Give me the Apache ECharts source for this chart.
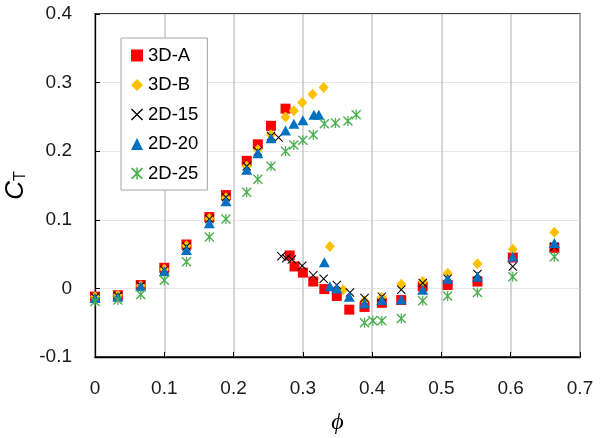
<!DOCTYPE html>
<html>
<head>
<meta charset="utf-8">
<script src="https://cdn.jsdelivr.net/npm/echarts@6/dist/echarts.min.js"></script>
<style>html,body{margin:0;padding:0;background:#fff}#c{width:601px;height:438px}</style>
</head>
<body>
<div id="c"></div>
<script>
const seriesNames = ['3D-A', '3D-B', '2D-15', '2D-20', '2D-25'];
const xTicks = [0, 0.1, 0.2, 0.3, 0.4, 0.5, 0.6, 0.7];
const yTicks = [-0.1, 0, 0.1, 0.2, 0.3, 0.4];

const phiA = [0, 0.033, 0.066, 0.1, 0.132, 0.165, 0.189, 0.219, 0.235, 0.254, 0.275,
  0.281, 0.288, 0.300, 0.315, 0.331, 0.349, 0.367, 0.389, 0.414, 0.442, 0.473, 0.509, 0.552, 0.603, 0.663];
const ctA = [-0.012, -0.010, 0.005, 0.030, 0.064, 0.104, 0.136, 0.186, 0.210, 0.237, 0.262,
  0.048, 0.032, 0.023, 0.010, -0.001, -0.011, -0.031, -0.027, -0.021, -0.017, 0.003, 0.005, 0.010, 0.045, 0.059];

const phiB = [0, 0.033, 0.066, 0.1, 0.132, 0.165, 0.189, 0.219, 0.235, 0.254, 0.275, 0.287, 0.299, 0.314, 0.330,
  0.339, 0.358, 0.389, 0.414, 0.442, 0.473, 0.509, 0.552, 0.603, 0.663];
const ctB = [-0.012, -0.010, 0.004, 0.028, 0.062, 0.102, 0.132, 0.178, 0.202, 0.224, 0.250, 0.259, 0.271, 0.283, 0.293,
  0.061, -0.002, -0.018, -0.013, 0.006, 0.010, 0.022, 0.036, 0.057, 0.082];

const phi15 = [0, 0.033, 0.066, 0.1, 0.132, 0.165, 0.189, 0.219, 0.235, 0.254, 0.265,
  0.269, 0.276, 0.284, 0.299, 0.315, 0.330, 0.349, 0.368, 0.389, 0.414, 0.442, 0.473, 0.509, 0.552, 0.603, 0.663];
const ct15 = [-0.013, -0.011, 0.004, 0.027, 0.061, 0.101, 0.133, 0.178, 0.200, 0.222, 0.220,
  0.047, 0.044, 0.042, 0.033, 0.019, 0.014, 0.005, -0.006, -0.014, -0.012, -0.002, 0.008, 0.014, 0.021, 0.032, 0.061];

const phi20 = [0, 0.033, 0.066, 0.1, 0.132, 0.165, 0.189, 0.219, 0.235, 0.254, 0.275, 0.287, 0.300, 0.316, 0.323,
  0.331, 0.339, 0.349, 0.367, 0.389, 0.414, 0.442, 0.473, 0.509, 0.552, 0.603, 0.663];
const ct20 = [-0.014, -0.012, 0.003, 0.025, 0.056, 0.095, 0.127, 0.173, 0.197, 0.219, 0.230, 0.240, 0.245, 0.253, 0.253,
  0.038, 0.003, 0.000, -0.012, -0.022, -0.017, -0.016, -0.002, 0.014, 0.017, 0.046, 0.066];

const phi25 = [0, 0.033, 0.066, 0.1, 0.132, 0.165, 0.189, 0.219, 0.235, 0.254, 0.275, 0.287, 0.300, 0.315, 0.331, 0.347, 0.365, 0.377,
  0.389, 0.401, 0.414, 0.442, 0.473, 0.509, 0.552, 0.603, 0.663];
const ct25 = [-0.019, -0.017, -0.009, 0.012, 0.039, 0.075, 0.101, 0.140, 0.159, 0.178, 0.200, 0.209, 0.216, 0.224, 0.240, 0.241, 0.244, 0.253,
  -0.050, -0.047, -0.047, -0.044, -0.018, -0.011, -0.006, 0.017, 0.046];

const pairs = (xs, ys) => xs.map((x, i) => [x, ys[i]]);

const X_PATH = 'path://M0,0.8 L0.8,0 L5,4.2 L9.2,0 L10,0.8 L5.8,5 L10,9.2 L9.2,10 L5,5.8 L0.8,10 L0,9.2 L4.2,5 Z';
const AST_PATH = 'path://M0,1 L1,0 L5,4 L9,0 L10,1 L6,5 L10,9 L9,10 L5,6 L1,10 L0,9 L4,5 Z M4.4,0 L5.6,0 L5.6,10 L4.4,10 Z';

const FONT = 'Liberation Sans, Arial, sans-serif';
const chart = echarts.init(document.getElementById('c'), null, {renderer: 'canvas'});

const mk = (name, data, symbol, size, color) => ({
  name, type: 'scatter', data, symbol, symbolSize: size,
  itemStyle: {color, opacity: 1},
  emphasis: {disabled: true},
  animation: false
});

chart.setOption({
  backgroundColor: '#fff',
  animation: false,
  grid: {left: 95, right: 21, top: 14, bottom: 81, containLabel: false, outerBoundsMode: 'none',
    show: true, borderColor: '#000', borderWidth: 1.3, backgroundColor: 'transparent'},
  legend: {
    orient: 'vertical', left: 121, top: 38,
    data: seriesNames,
    backgroundColor: '#fff', borderColor: '#a6a6a6', borderWidth: 1,
    padding: [8, 9, 7, 10],
    itemWidth: 12, itemHeight: 12, itemGap: 10.5,
    textStyle: {fontFamily: FONT, fontSize: 18.5, color: '#000', lineHeight: 18}
  },
  xAxis: {
    type: 'value', min: 0, max: 0.7, interval: 0.1,
    name: 'ϕ', nameLocation: 'middle', nameGap: 54,
    nameTextStyle: {fontFamily: 'Liberation Serif, serif', fontStyle: 'italic', fontSize: 24, color: '#000'},
    axisLine: {show: true, onZero: false, lineStyle: {color: '#000', width: 1.3}},
    axisTick: {show: true, inside: true, length: 5, lineStyle: {color: '#000'}},
    axisLabel: {fontFamily: FONT, fontSize: 19, color: '#1a1a1a', margin: 22,
      formatter: v => String(+v.toFixed(1))},
    splitLine: {show: true, lineStyle: {color: '#c8c8c8', width: 1.5}}
  },
  yAxis: {
    type: 'value', min: -0.1, max: 0.4, interval: 0.1,
    name: '{c|C}{t|T}', nameLocation: 'middle', nameGap: 53, nameRotate: 90,
    nameTextStyle: {
      rich: {
        c: {fontFamily: FONT, fontStyle: 'italic', fontSize: 26, color: '#000'},
        t: {fontFamily: FONT, fontSize: 16, color: '#000', verticalAlign: 'bottom', padding: [10, 0, 0, 0]}
      }
    },
    axisLine: {show: true, onZero: false, lineStyle: {color: '#000', width: 1.3}},
    axisTick: {show: true, inside: true, length: 5, lineStyle: {color: '#000'}},
    axisLabel: {fontFamily: FONT, fontSize: 19, color: '#1a1a1a', margin: 23,
      formatter: v => String(+v.toFixed(1))},
    splitLine: {show: true, lineStyle: {color: '#e6e6e6', width: 1.2}}
  },
  series: [
    mk('3D-A', pairs(phiA, ctA), 'rect', 10, '#ff0000'),
    mk('3D-B', pairs(phiB, ctB), 'diamond', [10, 11], '#ffc000'),
    mk('2D-15', pairs(phi15, ct15), X_PATH, 9, '#000000'),
    mk('2D-20', pairs(phi20, ct20), 'triangle', [11, 10], '#0070c0'),
    mk('2D-25', pairs(phi25, ct25), AST_PATH, 10, '#4caf50')
  ]
});
</script>
</body>
</html>
